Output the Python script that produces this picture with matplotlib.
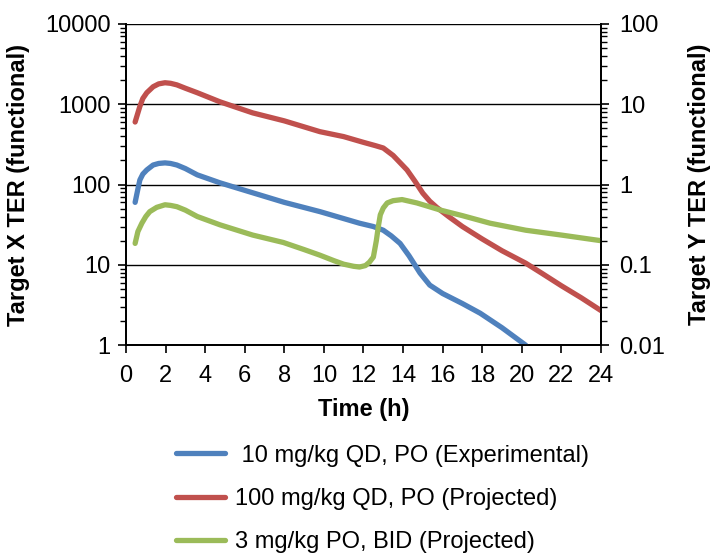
import matplotlib
matplotlib.use("Agg")
import matplotlib.pyplot as plt
from matplotlib.ticker import LogLocator, FixedLocator, NullFormatter

plt.rcParams['font.family'] = ['Liberation Sans', 'DejaVu Sans']

# Target X TER over time for each dosing regimen
t_10qd = [0.46, 0.6, 0.7, 0.85, 1.05, 1.37, 1.65, 1.97, 2.25, 2.57, 3, 3.6,
          4.75, 6.4, 8, 9.8, 11.8, 12.5, 13, 13.4, 13.85, 14.3, 14.86, 15.35, 16,
          17, 17.9, 19, 20.2]
ter_10qd = [60, 88, 114, 135, 152, 175, 183, 186, 183, 175, 158, 132, 105, 79,
            60, 46, 33, 30, 27, 23, 18.5, 13, 7.9, 5.6, 4.4, 3.3, 2.5, 1.65, 1.0]

t_100qd = [0.46, 0.6, 0.7, 0.85, 1.05, 1.37, 1.65, 1.97, 2.25, 2.57, 3, 3.6,
           4.75, 6.4, 8, 9.8, 11, 12, 12.6, 13, 13.5, 14.2, 14.6, 15, 15.35,
           15.7, 16.3, 17, 18, 19, 20.2, 21, 22, 23, 24]
ter_100qd = [600, 780, 940, 1180, 1390, 1650, 1790, 1850, 1820, 1740, 1580,
             1390, 1070, 780, 620, 455, 395, 335, 305, 285, 230, 152, 110, 78,
             62, 52, 40, 30, 21, 15, 10.5, 7.9, 5.5, 3.9, 2.7]

t_3bid = [0.46, 0.6, 0.8, 1.0, 1.2, 1.55, 1.97, 2.25, 2.57, 3, 3.6, 4.75, 6.4,
          7.95, 9, 9.8, 10.5, 11, 11.5, 11.8, 12.1, 12.3, 12.5, 12.65, 12.75,
          12.85, 13, 13.2, 13.5, 13.95, 14.7, 15.9, 17, 18.4, 20.2, 22, 24]
ter_3bid = [18.5, 26, 33, 40, 46, 52, 56, 55, 53, 48, 40, 31.5, 23.5, 19, 15.5,
            13.2, 11.3, 10.2, 9.6, 9.4, 9.8, 10.8, 12.5, 20, 30, 42, 51, 59, 63,
            65, 59, 48, 41, 33, 27, 23.5, 20]

labels = [" 10 mg/kg QD, PO (Experimental)",
          "100 mg/kg QD, PO (Projected)",
          "3 mg/kg PO, BID (Projected)"]
colors = ["#4F81BD", "#C0504D", "#9BBB59"]

x_ticks = list(range(0, 25, 2))
left_ticks = [1, 10, 100, 1000, 10000]
left_labels = ["1", "10", "100", "1000", "10000"]
right_ticks = [0.01, 0.1, 1, 10, 100]
right_labels = ["0.01", "0.1", "1", "10", "100"]

FS = 17

fig = plt.figure(figsize=(7.12, 5.55), dpi=100)
ax = fig.add_axes([0.177, 0.378, 0.667, 0.579])

lines = []
for t, v, c, lab in zip([t_10qd, t_100qd, t_3bid], [ter_10qd, ter_100qd, ter_3bid],
                        colors, labels):
    ln, = ax.plot(t, v, color=c, lw=3.8, solid_capstyle='round',
                  solid_joinstyle='round', label=lab, zorder=3)
    lines.append(ln)

ax.set_yscale('log')
ax.set_ylim(1, 10000)
ax.set_xlim(0, 24)
ax.yaxis.set_major_locator(FixedLocator(left_ticks))
ax.set_yticklabels(left_labels)
ax.yaxis.set_minor_locator(LogLocator(base=10, subs=range(2, 10)))
ax.yaxis.set_minor_formatter(NullFormatter())
ax.set_xticks(x_ticks)
ax.grid(axis='y', which='major', color='black', lw=1.0, zorder=1)

for s in ax.spines.values():
    s.set_linewidth(1.3)
ax.spines['top'].set_visible(False)

ax.tick_params(axis='x', which='major', labelsize=FS, length=6, width=1.2,
               direction='out', pad=8)
ax.tick_params(axis='y', which='major', labelsize=FS, length=6, width=1.2,
               direction='out', pad=5)
ax.tick_params(axis='y', which='minor', length=4, width=1.0, direction='out')

ax.set_xlabel("Time (h)", fontsize=FS, fontweight='bold', labelpad=8)
ax.set_ylabel("Target X TER (functional)", fontsize=FS, fontweight='bold',
              labelpad=11)

ax2 = ax.twinx()
ax2.set_yscale('log')
ax2.set_ylim(0.01, 100)
ax2.yaxis.set_major_locator(FixedLocator(right_ticks))
ax2.set_yticklabels(right_labels)
ax2.yaxis.set_minor_locator(LogLocator(base=10, subs=range(2, 10)))
ax2.yaxis.set_minor_formatter(NullFormatter())
ax2.tick_params(axis='y', which='major', labelsize=FS, length=6, width=1.2,
                direction='out', pad=7)
ax2.tick_params(axis='y', which='minor', length=4, width=1.0, direction='out')
for s in ax2.spines.values():
    s.set_linewidth(1.3)
ax2.spines['top'].set_visible(False)
ax2.set_ylabel("Target Y TER (functional)", fontsize=FS, fontweight='bold',
               labelpad=17)

fig.legend(handles=lines, loc='upper left', bbox_to_anchor=(0.247, 0.199),
           frameon=False, fontsize=FS, handlelength=2.1, handletextpad=0.42,
           labelspacing=0.9, borderaxespad=0, borderpad=0)

fig.savefig("out.png", dpi=100)
